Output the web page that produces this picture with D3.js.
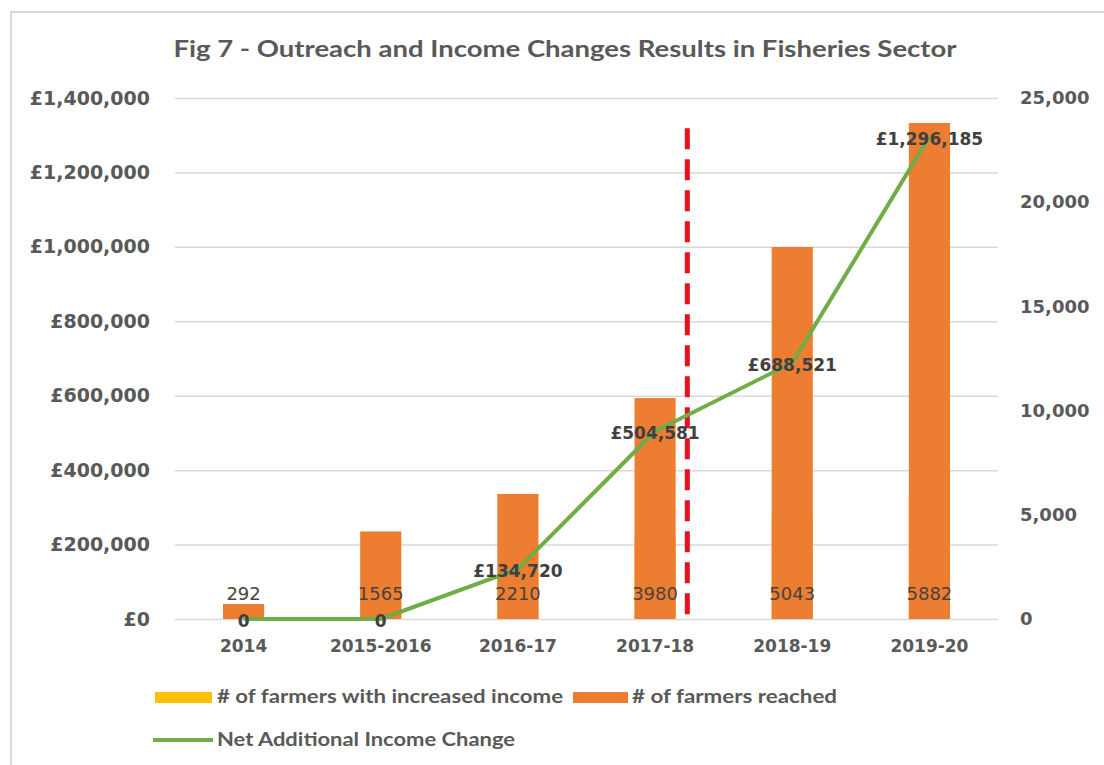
<!DOCTYPE html>
<html>
<head>
<meta charset="utf-8">
<script src="https://cdn.jsdelivr.net/npm/d3@7"></script>
<style>
  body { margin: 0; background: #fff; }
  svg { display: block; }
</style>
</head>
<body>
<script>
// data
var years = ["2014", "2015-2016", "2016-17", "2017-18", "2018-19", "2019-20"];
var farmersIncreased = [292, 1565, 2210, 3980, 5043, 5882];
var farmersReached = [720, 4200, 6000, 10600, 17850, 23800];
var incomeChange = [0, 0, 134720, 504581, 688521, 1296185];
var leftTicks = [0, 200000, 400000, 600000, 800000, 1000000, 1200000, 1400000];
var rightTicks = [0, 5000, 10000, 15000, 20000, 25000];

var W = 1104, H = 765;
var margin = {top: 98, right: 106, bottom: 146, left: 175},
    width = W - margin.left - margin.right,
    height = H - margin.top - margin.bottom;

var svg = d3.select("body").append("svg")
    .attr("width", W)
    .attr("height", H);

// outer frame
svg.append("rect")
    .attr("x", 11).attr("y", 12)
    .attr("width", W).attr("height", H)
    .attr("fill", "none")
    .attr("stroke", "#d9d9d9")
    .attr("stroke-width", 2);

svg.append("text")
    .attr("x", 565).attr("y", 57)
    .attr("text-anchor", "middle")
    .attr("textLength", 783)
    .attr("lengthAdjust", "spacingAndGlyphs")
    .style("font-family", "Lato, sans-serif")
    .style("font-weight", "bold")
    .style("font-size", "22px")
    .style("fill", "#595959")
    .text("Fig 7 - Outreach and Income Changes Results in Fisheries Sector");

var g = svg.append("g")
    .attr("transform", "translate(" + margin.left + "," + margin.top + ")");

var x = d3.scaleBand()
    .domain(years)
    .range([0, width])
    .paddingInner(0.7)
    .paddingOuter(0.35);
var yL = d3.scaleLinear().domain([0, 1400000]).range([height, 0]);
var yR = d3.scaleLinear().domain([0, 25000]).range([height, 0]);

// gridlines
g.append("g")
    .call(d3.axisLeft(yL).tickValues(leftTicks).tickSize(-width).tickFormat(""))
    .call(function(s) {
      s.select(".domain").remove();
      s.selectAll("line").attr("stroke", "#d9d9d9").attr("stroke-width", 1.5);
    });

var axisFont = function(s, size) {
  s.selectAll("text")
    .style("font-family", "'DejaVu Sans', sans-serif")
    .style("font-weight", "bold")
    .style("font-size", size)
    .style("fill", "#595959");
};

g.append("g")
    .call(d3.axisLeft(yL).tickValues(leftTicks).tickSize(0).tickPadding(25)
      .tickFormat(function(d) { return "£" + d3.format(",")(d); }))
    .call(function(s) { s.select(".domain").remove(); axisFont(s, "19px"); });

g.append("g")
    .attr("transform", "translate(" + width + ",0)")
    .call(d3.axisRight(yR).tickValues(rightTicks).tickSize(0).tickPadding(22)
      .tickFormat(d3.format(",")))
    .call(function(s) { s.select(".domain").remove(); axisFont(s, "18px"); });

g.append("g")
    .attr("transform", "translate(0," + height + ")")
    .call(d3.axisBottom(x).tickSize(0).tickPadding(21))
    .call(function(s) { s.select(".domain").remove(); axisFont(s, "17px"); });

// bars (overlapped, reached drawn on top)
g.selectAll(".bar-inc")
    .data(years)
  .enter().append("rect")
    .attr("class", "bar-inc")
    .attr("x", function(d) { return x(d); })
    .attr("width", x.bandwidth())
    .attr("y", function(d, i) { return yR(farmersIncreased[i]); })
    .attr("height", function(d, i) { return height - yR(farmersIncreased[i]); })
    .style("fill", "#FFC000");

g.selectAll(".bar-reach")
    .data(years)
  .enter().append("rect")
    .attr("class", "bar-reach")
    .attr("x", function(d) { return x(d); })
    .attr("width", x.bandwidth())
    .attr("y", function(d, i) { return yR(farmersReached[i]); })
    .attr("height", function(d, i) { return height - yR(farmersReached[i]); })
    .style("fill", "#ED7D31");

// bar labels
g.selectAll(".bar-label")
    .data(years)
  .enter().append("text")
    .attr("class", "bar-label")
    .attr("x", function(d) { return x(d) + x.bandwidth() / 2; })
    .attr("y", yR(0) - 24)
    .attr("text-anchor", "middle")
    .attr("dominant-baseline", "middle")
    .style("font-family", "'DejaVu Sans', sans-serif")
    .style("font-size", "18px")
    .style("fill", "#4a433d")
    .text(function(d, i) { return farmersIncreased[i]; });

// red dashed divider between 2017-18 and 2018-19
var step = x.step();
var divX = x("2017-18") + x.bandwidth() / 2 + step * 0.235;
g.append("line")
    .attr("x1", divX).attr("x2", divX)
    .attr("y1", yR(23550)).attr("y2", yR(0) + 3)
    .attr("stroke", "#e8101c")
    .attr("stroke-width", 5)
    .attr("stroke-dasharray", "21,10");

// income line
var line = d3.line()
    .x(function(d, i) { return x(years[i]) + x.bandwidth() / 2; })
    .y(function(d) { return yL(d); });

g.append("path")
    .datum(incomeChange)
    .attr("d", line)
    .attr("fill", "none")
    .attr("stroke", "#70AD47")
    .attr("stroke-width", 4)
    .attr("stroke-linejoin", "round");

g.selectAll(".line-label")
    .data(incomeChange)
  .enter().append("text")
    .attr("class", "line-label")
    .attr("x", function(d, i) { return x(years[i]) + x.bandwidth() / 2; })
    .attr("y", function(d) { return yL(d) + 3; })
    .attr("text-anchor", "middle")
    .attr("dominant-baseline", "middle")
    .style("font-family", "'DejaVu Sans', sans-serif")
    .style("font-weight", "bold")
    .style("font-size", "17px")
    .style("fill", "#404040")
    .text(function(d) { return d === 0 ? "0" : "£" + d3.format(",")(d); });

// legend
var legendFont = function(s) {
  s.style("font-family", "Lato, sans-serif")
   .style("font-weight", "bold")
   .style("font-size", "18px")
   .style("fill", "#595959");
};

svg.append("rect").attr("x", 155).attr("y", 692).attr("width", 57).attr("height", 11).style("fill", "#FFC000");
svg.append("text").attr("x", 217).attr("y", 703)
    .attr("textLength", 346).attr("lengthAdjust", "spacingAndGlyphs")
    .call(legendFont).text("# of farmers with increased income");

svg.append("rect").attr("x", 573).attr("y", 692).attr("width", 55).attr("height", 11).style("fill", "#ED7D31");
svg.append("text").attr("x", 632).attr("y", 703)
    .attr("textLength", 205).attr("lengthAdjust", "spacingAndGlyphs")
    .call(legendFont).text("# of farmers reached");

svg.append("line").attr("x1", 153).attr("x2", 213).attr("y1", 740).attr("y2", 740)
    .attr("stroke", "#70AD47").attr("stroke-width", 4);
svg.append("text").attr("x", 217).attr("y", 746)
    .attr("textLength", 298).attr("lengthAdjust", "spacingAndGlyphs")
    .call(legendFont).text("Net Additional Income Change");
</script>
</body>
</html>
